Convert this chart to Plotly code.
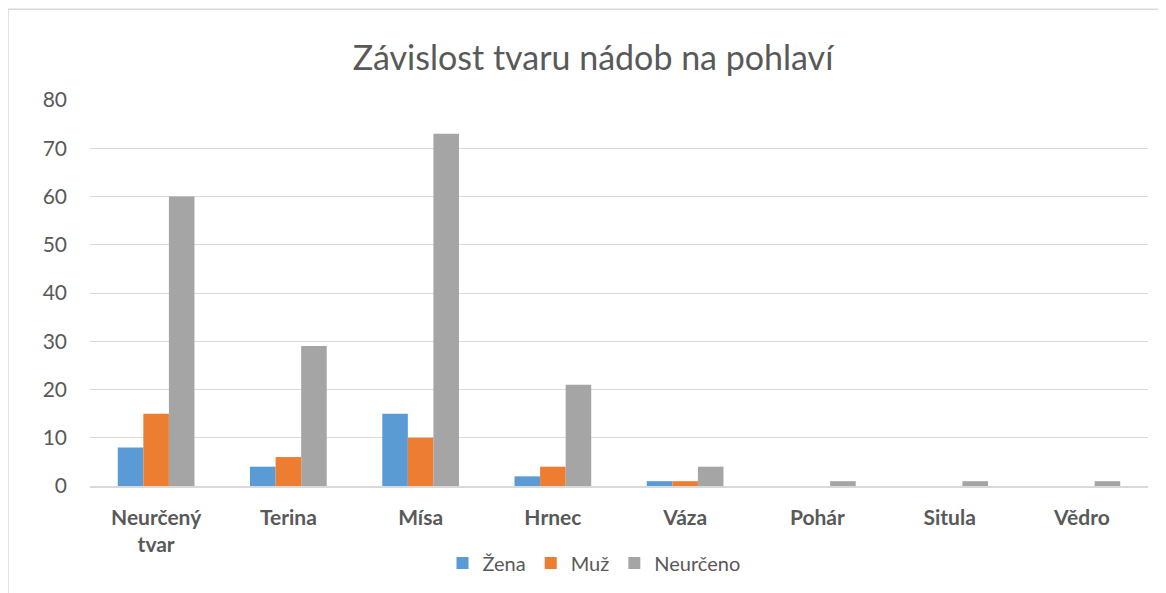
import plotly.graph_objects as go

categories = ["Neurčený<br>tvar", "Terina", "Mísa", "Hrnec", "Váza", "Pohár", "Situla", "Vědro"]
zena = [8, 4, 15, 2, 1, 0, 0, 0]
muz = [15, 6, 10, 4, 1, 0, 0, 0]
neurceno = [60, 29, 73, 21, 4, 1, 1, 1]
y_ticks = [0, 10, 20, 30, 40, 50, 60, 70, 80]

FONT = "Lato, 'Open Sans', sans-serif"
GREY_TXT = "#595959"

fig = go.Figure()
for name, vals, col in [("Žena", zena, "#5B9BD5"), ("Muž", muz, "#ED7D31"), ("Neurčeno", neurceno, "#A5A5A5")]:
    fig.add_trace(go.Bar(name=name, x=categories, y=vals, marker=dict(color=col, line=dict(width=0))))

OFF = 8  # page body margin offset
W, H = 1158, 585
L, R, T, B = 82, 18, 92, 106
pw, ph = W - L - R, H - T - B

def px(sx):
    return (sx - OFF - L) / pw

def py(sy):
    return (H - B - (sy - OFF)) / ph

fig.update_layout(
    width=W, height=H,
    margin=dict(l=L, r=R, t=T, b=B),
    paper_bgcolor="white", plot_bgcolor="white",
    barmode="group", bargap=0.42, bargroupgap=0,
    title=dict(text="Závislost tvaru nádob na pohlaví", x=px(593), xanchor="center",
               xref="paper",
               y=1 - (58 - OFF) / H, yanchor="middle",
               font=dict(family=FONT, size=34, color=GREY_TXT)),
    font=dict(family=FONT, color=GREY_TXT),
    legend=dict(orientation="h", x=px(594), xanchor="center", y=py(563), yanchor="middle",
                font=dict(family=FONT, size=20, color=GREY_TXT),
                itemwidth=30, traceorder="normal"),
    xaxis=dict(showgrid=False, showline=True, linecolor="#d9d9d9", linewidth=1.5,
               tickfont=dict(family=FONT, size=21, color=GREY_TXT, weight="bold"),
               ticks="", ticklabelstandoff=12),
    yaxis=dict(range=[0, 80], tickvals=y_ticks, showgrid=True, gridcolor="#d9d9d9",
               gridwidth=1, zeroline=False, showline=False,
               tickfont=dict(family=FONT, size=21, color=GREY_TXT),
               ticks="", ticklabelstandoff=22),
    shapes=[
        dict(type="line", xref="paper", yref="paper", x0=px(8), x1=px(1200), y0=py(9), y1=py(9),
             line=dict(color="#d9d9d9", width=1.5)),
        dict(type="line", xref="paper", yref="paper", x0=px(8), x1=px(8), y0=py(9), y1=py(700),
             line=dict(color="#d9d9d9", width=1.5)),
    ],
)

fig.write_html("out.html")
